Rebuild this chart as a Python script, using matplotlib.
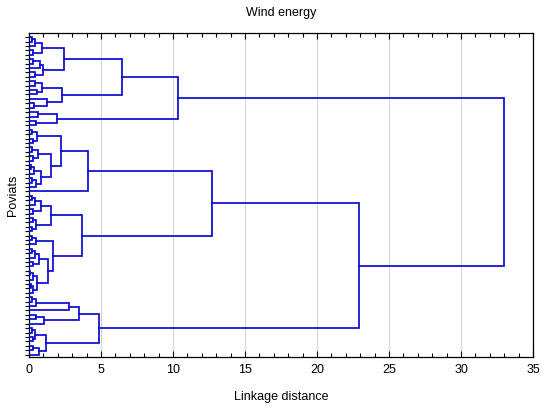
import matplotlib
matplotlib.use("Agg")
import matplotlib.pyplot as plt
from matplotlib.ticker import MultipleLocator

plt.rcParams["font.family"] = ["Liberation Sans", "DejaVu Sans"]

L = 0  # one poviat (a leaf)

# linkage distances; every node is (distance, upper, lower)
cluster_a = (10.35,
             (6.45,
              (2.45,
               (0.93, (0.45, (0.2, L, L), L), (0.3, L, L)),
               (1.0, (0.76, (0.3, L, L), L), (0.45, L, L))),
              (2.3,
               (0.93, (0.4, L, L), (0.55, L, L)),
               (1.22, L, (0.35, L, L)))),
             (1.95, (0.6, L, L), (0.5, L, L)))

cluster_b1 = (4.07,
              (2.22,
               (0.53, (0.2, L, L), (0.25, L, L)),
               (1.53,
                (0.6, (0.2, L, L), (0.3, L, L)),
                (0.83, (0.35, (0.15, L, L), L), (0.5, (0.2, L, L), L)))),
              L)

cluster_b2 = (3.7,
              (1.53,
               (0.85, (0.4, (0.2, L, L), L), (0.3, L, L)),
               (0.5, (0.25, L, L), (0.2, L, L))),
              (1.68,
               (0.5, (0.2, L, L), L),
               (1.34,
                (0.7, (0.4, (0.2, L, L), L), (0.3, L, L)),
                (0.53, (0.25, (0.1, L, L), L), (0.3, (0.15, L, L), L)))))

cluster_c = (4.86,
             (3.47,
              (2.78, (0.5, (0.2, L, L), L), L),
              (1.06, (0.5, L, L), L)),
             (1.18,
              (0.45, (0.2, L, L), (0.25, L, L)),
              (0.7, (0.3, L, L), L)))

tree = (33.0, cluster_a, (22.9, (12.7, cluster_b1, cluster_b2), cluster_c))

line_color = "#0a0ad2"

fig = plt.figure(figsize=(5.5, 4.11), dpi=100)
ax = fig.add_axes([0.0527, 0.1314, 0.9164, 0.7883])

counter = [0]


def draw(node):
    if not isinstance(node, tuple):
        y = counter[0]
        counter[0] += 1
        return y, 0.0
    h, upper, lower = node
    y1, h1 = draw(upper)
    y2, h2 = draw(lower)
    ax.plot([h1, h, h, h2], [y1, y1, y2, y2], color=line_color,
            linewidth=1.25, solid_joinstyle="miter", zorder=3)
    return (y1 + y2) / 2.0, h


draw(tree)
n_leaves = counter[0]

ax.set_xlim(0, 35)
ax.set_ylim(n_leaves - 0.45, -0.95)
ax.xaxis.set_major_locator(MultipleLocator(5))
ax.xaxis.set_minor_locator(MultipleLocator(1))
ax.set_yticks(range(n_leaves))
ax.set_yticklabels([])
ax.tick_params(axis="x", which="both", direction="in", top=True,
               labelsize=9, pad=5)
ax.tick_params(axis="x", which="major", length=4, width=0.8)
ax.tick_params(axis="x", which="minor", length=3, width=0.8)
ax.tick_params(axis="y", direction="out", length=3, width=0.8, pad=0)
ax.grid(axis="x", which="major", color="#d4d4d4", linewidth=0.8, zorder=0)
for s in ax.spines.values():
    s.set_linewidth(0.9)

ax.set_title("Wind energy", fontsize=9, pad=12)
ax.set_xlabel("Linkage distance", fontsize=9, labelpad=11)
ax.set_ylabel("Poviats", fontsize=9, labelpad=4)

fig.savefig("out.png", dpi=100)
